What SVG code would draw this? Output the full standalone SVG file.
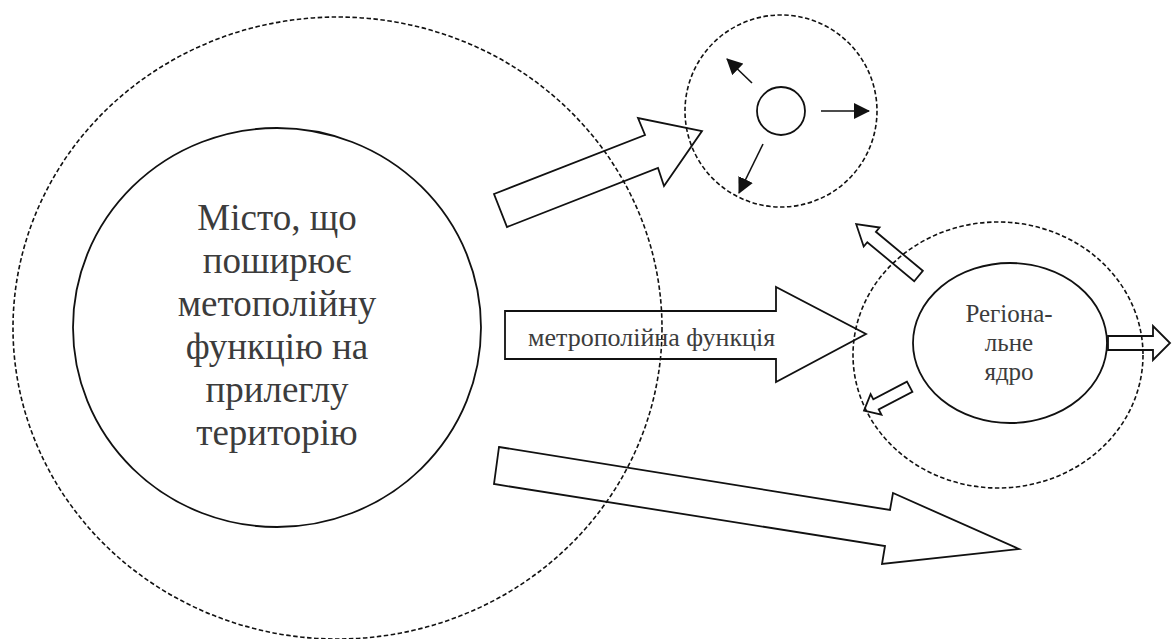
<svg xmlns="http://www.w3.org/2000/svg" width="1172" height="639" viewBox="0 0 1172 639">
  <style>
    .dash { fill: none; stroke: #111111; stroke-width: 1.6; stroke-dasharray: 4.5 2.5; }
    .solid { fill: none; stroke: #111111; stroke-width: 1.8; }
    .hollow { fill: none; stroke: #111111; stroke-width: 1.8; stroke-linejoin: miter; }
    .thin { fill: none; stroke: #111111; stroke-width: 1.6; }
  </style>
  <defs>
    <marker id="head" viewBox="0 0 16 16" refX="15" refY="8" markerWidth="16" markerHeight="16" markerUnits="userSpaceOnUse" orient="auto">
      <path d="M0,0 L16,8 L0,16 Z" fill="#111111"/>
    </marker>
  </defs>
  <rect width="1172" height="639" fill="#ffffff"/>

  <g id="city">
    <ellipse class="dash" cx="337.5" cy="328" rx="324.5" ry="311"/>
    <ellipse class="solid" cx="277" cy="327.5" rx="204" ry="199.5"/>
    <g font-family="'Liberation Serif', serif" font-size="37" fill="#3c3c3c" text-anchor="middle">
      <text x="277" y="230">Місто, що</text>
      <text x="277" y="273">поширює</text>
      <text x="277" y="316">метополійну</text>
      <text x="277" y="359">функцію на</text>
      <text x="277" y="402">прилеглу</text>
      <text x="277" y="445">територію</text>
    </g>
  </g>

  <g id="satellite">
    <ellipse class="dash" cx="781" cy="111" rx="96" ry="96"/>
    <circle class="solid" cx="781" cy="111" r="24"/>
  </g>

  <g id="regional-core">
    <ellipse class="dash" cx="998" cy="355" rx="145" ry="133"/>
    <ellipse class="solid" cx="1010" cy="343" rx="97" ry="80"/>
    <g font-family="'Liberation Serif', serif" font-size="25" fill="#3c3c3c" text-anchor="middle">
      <text x="1009" y="322">Регіона-</text>
      <text x="1009" y="351">льне</text>
      <text x="1009" y="380">ядро</text>
    </g>
  </g>

  <g id="connectors">
    <polygon class="hollow" points="494,194 645,135 638,118 702,131 664,186 658,168 507,227"/>
    <polygon class="hollow" points="505,311 776,311 776,287 866,334 776,382 776,359 505,359"/>
    <text x="528" y="346" font-family="'Liberation Serif', serif" font-size="26" fill="#3c3c3c">метрополійна функція</text>
    <polygon class="hollow" points="499,447 890,510 893,493 1019,549 882,564 885,546 494,484"/>

    <polygon class="hollow" points="922.8,270.8 875.9,231.8 879.5,227.5 856.2,224.2 863.7,246.5 867.3,242.2 914.2,281.2"/>
    <polygon class="hollow" points="907,381.6 873.3,399.3 870.6,394.1 864,410.7 881.4,414.7 878.7,409.5 912.4,391.8"/>
    <polygon class="hollow" points="1108,336 1153,336 1153,326 1170,343 1153,360 1153,350 1108,350"/>

    <line class="thin" x1="821" y1="111" x2="869" y2="111" marker-end="url(#head)"/>
    <line class="thin" x1="752" y1="83" x2="727" y2="59" marker-end="url(#head)"/>
    <line class="thin" x1="763" y1="144" x2="739" y2="193" marker-end="url(#head)"/>
  </g>
</svg>
